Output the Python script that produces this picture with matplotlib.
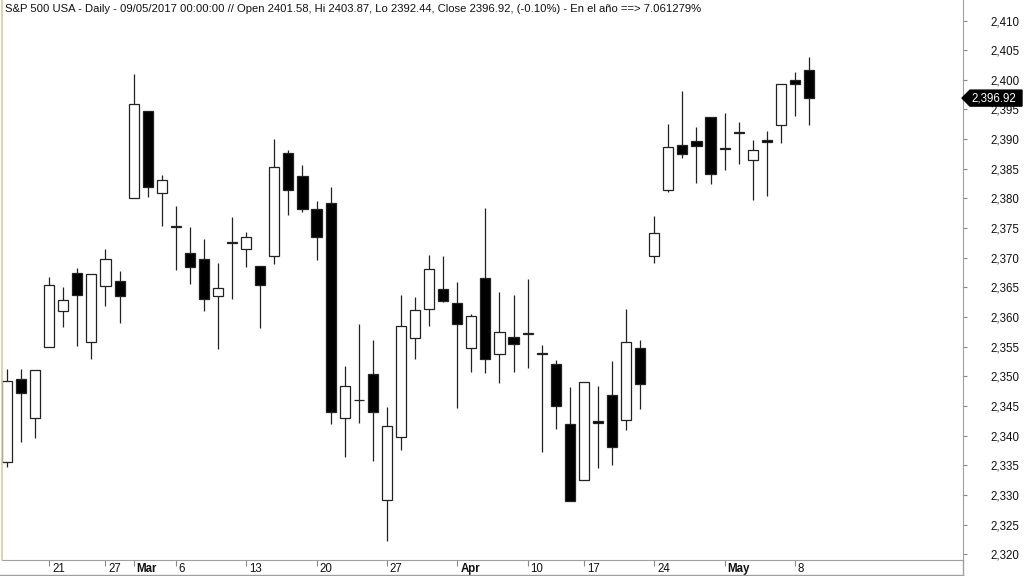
import matplotlib
matplotlib.use("Agg")
import matplotlib.pyplot as plt
from matplotlib.patches import Rectangle, Polygon
from matplotlib.lines import Line2D
from matplotlib.transforms import ScaledTranslation, IdentityTransform
import numpy as np

plt.rcParams['font.family'] = ['Liberation Sans', 'DejaVu Sans']

# daily bars, 15 Feb 2017 .. 9 May 2017
dates = ["02-15", "02-16", "02-17", "02-21", "02-22", "02-23", "02-24", "02-27", "02-28",
         "03-01", "03-02", "03-03", "03-06", "03-07", "03-08", "03-09", "03-10",
         "03-13", "03-14", "03-15", "03-16", "03-17", "03-20", "03-21", "03-22", "03-23", "03-24",
         "03-27", "03-28", "03-29", "03-30", "03-31", "04-03", "04-04", "04-05", "04-06", "04-07",
         "04-10", "04-11", "04-12", "04-13", "04-17", "04-18", "04-19", "04-20", "04-21",
         "04-24", "04-25", "04-26", "04-27", "04-28", "05-01", "05-02", "05-03", "05-04", "05-05",
         "05-08", "05-09"]
opens = [2335.58, 2349.64, 2343.01, 2354.91, 2361.11, 2367.50, 2355.73, 2365.23, 2366.08,
         2380.13, 2394.75, 2380.92, 2375.23, 2370.74, 2369.81, 2363.49, 2372.52,
         2371.56, 2368.55, 2370.34, 2387.71, 2383.71, 2378.24, 2379.32, 2343.00, 2345.97, 2350.42,
         2329.11, 2339.79, 2356.54, 2361.31, 2364.82, 2362.34, 2354.76, 2366.59, 2353.79, 2356.59,
         2357.16, 2353.92, 2352.15, 2341.98, 2332.62, 2342.53, 2346.79, 2342.69, 2354.74,
         2370.33, 2381.51, 2388.98, 2389.70, 2393.68, 2388.50, 2391.05, 2386.50, 2389.79, 2392.37,
         2399.94, 2401.58]
highs = [2351.30, 2351.31, 2351.16, 2366.71, 2365.13, 2368.26, 2367.34, 2371.54, 2367.79,
         2400.98, 2394.75, 2383.89, 2378.80, 2375.12, 2373.09, 2369.08, 2376.86,
         2374.42, 2368.55, 2390.01, 2388.10, 2385.71, 2379.55, 2381.93, 2351.81, 2358.92, 2356.22,
         2344.90, 2363.78, 2363.36, 2370.42, 2370.35, 2365.87, 2360.53, 2378.36, 2364.16, 2363.76,
         2366.37, 2355.22, 2352.72, 2348.26, 2349.14, 2348.35, 2352.63, 2361.37, 2356.18,
         2376.98, 2392.48, 2398.16, 2392.10, 2393.68, 2394.49, 2392.93, 2389.82, 2391.43, 2399.29,
         2401.36, 2403.87]
lows = [2334.81, 2338.87, 2339.58, 2354.91, 2358.34, 2355.09, 2352.87, 2361.87, 2358.96,
        2380.13, 2380.17, 2375.39, 2367.98, 2365.51, 2361.01, 2354.54, 2363.04,
        2368.52, 2358.18, 2368.94, 2377.18, 2377.64, 2369.66, 2341.90, 2336.45, 2342.13, 2335.74,
        2322.25, 2337.63, 2352.94, 2358.58, 2362.60, 2344.73, 2350.72, 2350.52, 2348.90, 2350.74,
        2351.50, 2337.25, 2341.18, 2328.95, 2332.51, 2334.54, 2335.05, 2340.91, 2344.51,
        2369.19, 2381.15, 2386.78, 2382.68, 2382.36, 2384.83, 2385.82, 2379.75, 2380.35, 2389.38,
        2393.92, 2392.44]
closes = [2349.25, 2347.22, 2351.16, 2365.38, 2362.82, 2363.81, 2367.34, 2369.75, 2363.64,
          2395.96, 2381.92, 2383.12, 2375.31, 2368.39, 2362.98, 2364.87, 2372.60,
          2373.47, 2365.45, 2385.26, 2381.38, 2378.25, 2373.47, 2344.02, 2348.45, 2345.96, 2343.98,
          2341.59, 2358.57, 2361.13, 2368.06, 2362.72, 2358.84, 2360.16, 2352.95, 2357.49, 2355.54,
          2357.16, 2353.78, 2344.93, 2328.95, 2349.01, 2342.19, 2338.17, 2355.84, 2348.69,
          2374.15, 2388.61, 2387.45, 2388.77, 2384.20, 2388.33, 2391.17, 2388.13, 2389.52, 2399.29,
          2399.38, 2396.92]

tick_idx = [3, 7, 9, 12, 17, 22, 27, 32, 37, 41, 46, 51, 56]
tick_text = ["21", "27", "Mar", "6", "13", "20", "27", "Apr", "10", "17", "24", "May", "8"]
months = {"Mar", "Apr", "May"}
yticks = np.arange(2320, 2411, 5)

title = ("S&P 500 USA - Daily - 09/05/2017 00:00:00 // Open 2401.58, Hi 2403.87, "
         "Lo 2392.44, Close 2396.92, (-0.10%) - En el año ==> 7.061279%")

W, H = 1024, 576
fig = plt.figure(figsize=(W / 100, H / 100), dpi=100)
ax = fig.add_axes([2 / W, 16 / H, 961 / W, 560 / H])
ax.set_xlim(-0.355, 67.94)
ax.set_ylim(2319.05, 2413.46)

x = np.arange(len(opens))
ax.vlines(x, lows, highs, color="#222222", lw=0.9, zorder=2)
bw = 0.72
for i in x:
    o, c = opens[i], closes[i]
    fc = "black" if c < o else "white"
    lo = min(o, c)
    h = max(abs(c - o), 0.12)
    ax.add_patch(Rectangle((i - bw / 2, lo), bw, h, facecolor=fc,
                           edgecolor="#222222", lw=0.9, zorder=3))

for s in ["top", "left"]:
    ax.spines[s].set_visible(False)
ax.spines["bottom"].set_color("#a0a0a0")
ax.spines["right"].set_color("#a0a0a0")

ax.set_xticks(tick_idx)
ax.set_xticklabels(tick_text)
ax.tick_params(axis="x", direction="out", length=4, width=0.8, color="#888888",
               pad=-1.5, labelsize=8.3, labelcolor="#111111")
off = ScaledTranslation(3 / 100, 0, fig.dpi_scale_trans)
for lab in ax.get_xticklabels():
    lab.set_horizontalalignment("left")
    lab.set_transform(lab.get_transform() + off)
    if lab.get_text() in months:
        lab.set_fontweight("bold")

ax.yaxis.tick_right()
ax.set_yticks(yticks)
ax.set_yticklabels([f"{v:,}" for v in yticks])
ax.tick_params(axis="y", direction="out", length=3, width=0.8, color="#888888",
               pad=37.5, labelsize=8.3, labelcolor="#111111")
for lab in ax.get_yticklabels():
    lab.set_horizontalalignment("right")

# frame lines of the price panel
fig.add_artist(Line2D([1.5 / W, 1.5 / W], [16 / H, 1], color="#d8c9a0", lw=1.2))
fig.add_artist(Line2D([0, 963 / W], [1.2 / H, 1.2 / H], color="#a0a0a0", lw=1))
fig.add_artist(Line2D([963 / W, 963 / W], [0, 16 / H], color="#a0a0a0", lw=1))

ax.text(0.003, 0.984, title, transform=ax.transAxes, fontsize=8.15,
        color="#111111", va="center", ha="left")

# last price tag
last = closes[-1]
fig.canvas.draw()
yp = ax.transData.transform((0, last))[1]
tag = Polygon([(962, yp), (970, yp + 8), (1022, yp + 8), (1022, yp - 8), (970, yp - 8)],
              closed=True, facecolor="black", edgecolor="black",
              transform=IdentityTransform(), zorder=5)
fig.add_artist(tag)
fig.text(994 / W, yp / H, f"{last:,.2f}", color="white", fontsize=8.3,
         ha="center", va="center", zorder=6)

fig.savefig("out.png", dpi=100, facecolor="white")
